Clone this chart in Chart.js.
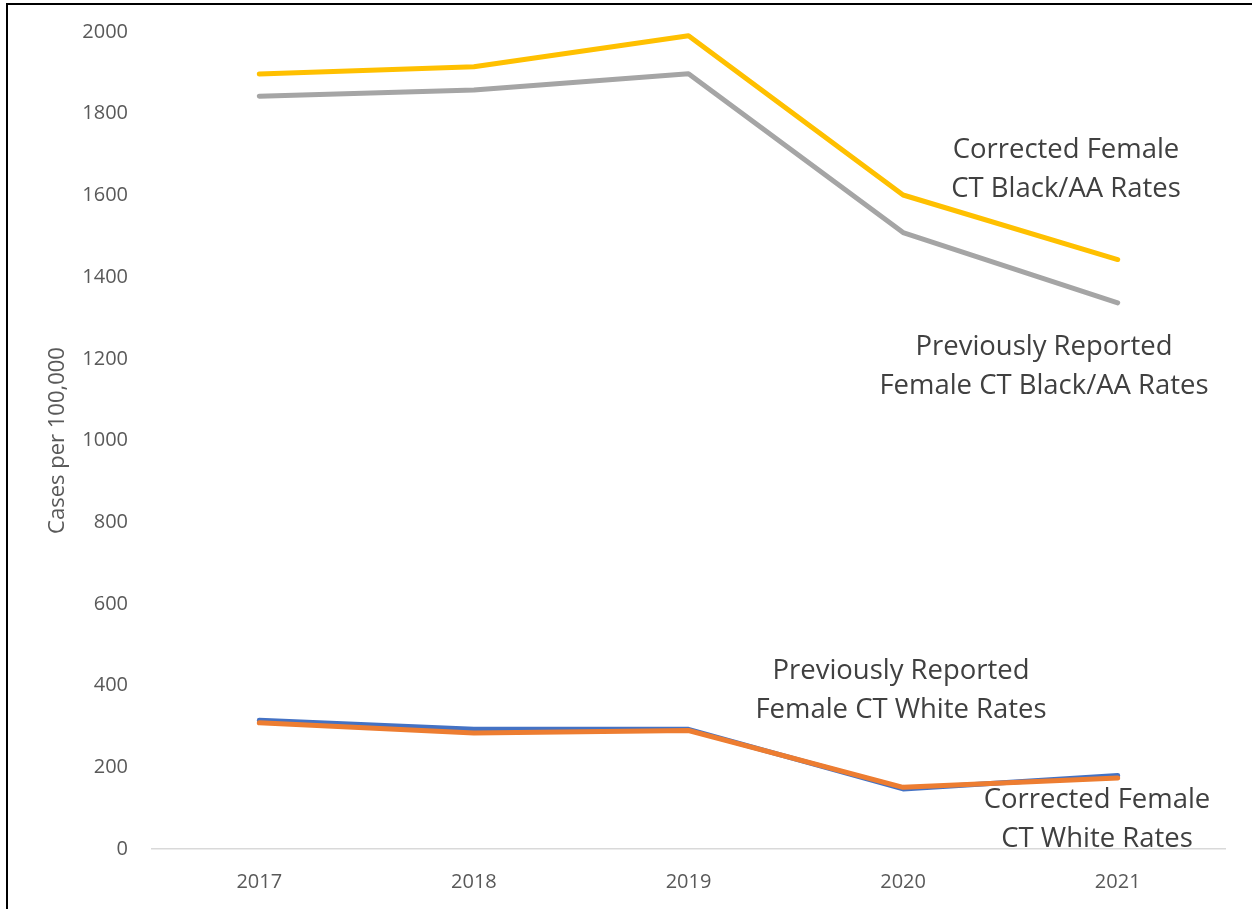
<!DOCTYPE html>
<html>
<head>
<meta charset="utf-8">
<script src="https://cdn.jsdelivr.net/npm/chart.js@4"></script>
<style>
  html, body { margin: 0; padding: 0; background: #ffffff; }
  #wrap { width: 1252px; height: 909px; position: relative; }
</style>
</head>
<body>
<div id="wrap"><canvas id="c" width="1252" height="909"></canvas></div>
<script>
const categories = ['2017', '2018', '2019', '2020', '2021'];
const correctedBlack = [1897, 1915, 1991, 1601, 1443];
const previousBlack = [1843, 1858, 1898, 1509, 1337];
const previousWhite = [315, 293, 293, 147, 180];
const correctedWhite = [309, 284, 290, 151, 174];
const yTicks = [0, 200, 400, 600, 800, 1000, 1200, 1400, 1600, 1800, 2000];
const yTitle = 'Cases per 100,000';

const annotations = [
  { lines: ['Corrected Female', 'CT Black/AA Rates'], x: 1066, y: 158 },
  { lines: ['Previously Reported', 'Female CT Black/AA Rates'], x: 1044, y: 355 },
  { lines: ['Previously Reported', 'Female CT White Rates'], x: 901, y: 679 },
  { lines: ['Corrected Female', 'CT White Rates'], x: 1097, y: 808 }
];

const FONT = '"Open Sans", "Liberation Sans", sans-serif';

const decor = {
  id: 'decor',
  afterDraw(chart) {
    const ctx = chart.ctx;
    ctx.save();
    ctx.strokeStyle = '#000000';
    ctx.lineWidth = 2;
    ctx.beginPath();
    ctx.moveTo(7, 909);
    ctx.lineTo(7, 4);
    ctx.lineTo(1252, 4);
    ctx.stroke();
    ctx.font = '100px ' + FONT;
    const w = ctx.measureText('Previously Reported').width;
    const size = 100 * 257 / w;
    ctx.font = size.toFixed(2) + 'px ' + FONT;
    ctx.fillStyle = '#404040';
    ctx.textAlign = 'center';
    ctx.textBaseline = 'alphabetic';
    annotations.forEach(a => {
      a.lines.forEach((t, i) => ctx.fillText(t, a.x, a.y + i * 39));
    });
    ctx.restore();
  }
};

new Chart(document.getElementById('c'), {
  type: 'line',
  data: {
    labels: categories,
    datasets: [
      { label: 'Corrected Female CT Black/AA Rates', data: correctedBlack, borderColor: '#FFC000', order: 1 },
      { label: 'Previously Reported Female CT Black/AA Rates', data: previousBlack, borderColor: '#A5A5A5', order: 2 },
      { label: 'Previously Reported Female CT White Rates', data: previousWhite, borderColor: '#4472C4', order: 4 },
      { label: 'Corrected Female CT White Rates', data: correctedWhite, borderColor: '#ED7D31', order: 3 }
    ].map(d => Object.assign(d, {
      borderWidth: 5, pointRadius: 0, pointHoverRadius: 0, tension: 0,
      borderCapStyle: 'round', borderJoinStyle: 'round', fill: false
    }))
  },
  options: {
    responsive: false,
    animation: false,
    layout: { padding: { left: 0, right: 27, top: 32, bottom: 0 } },
    plugins: { legend: { display: false }, tooltip: { enabled: false } },
    scales: {
      x: {
        offset: true,
        grid: { display: false, drawTicks: false },
        border: { display: true, color: '#d9d9d9', width: 1.5 },
        ticks: { color: '#595959', font: { family: FONT, size: 20 }, padding: 21, maxRotation: 0 },
        afterFit(s) { s.height = 60; }
      },
      y: {
        min: 0, max: 2000,
        afterBuildTicks(s) { s.ticks = yTicks.map(v => ({ value: v })); },
        grid: { display: false, drawTicks: false },
        border: { display: false },
        ticks: { color: '#595959', font: { family: FONT, size: 20 }, padding: 24, callback: v => String(v) },
        title: { display: true, text: yTitle, color: '#595959', font: { family: FONT, size: 22 }, padding: { top: 45, bottom: 0 } },
        afterFit(s) { s.width = 152; s.paddingTop = 0; s.paddingBottom = 0; }
      }
    }
  },
  plugins: [decor]
});
</script>
</body>
</html>
